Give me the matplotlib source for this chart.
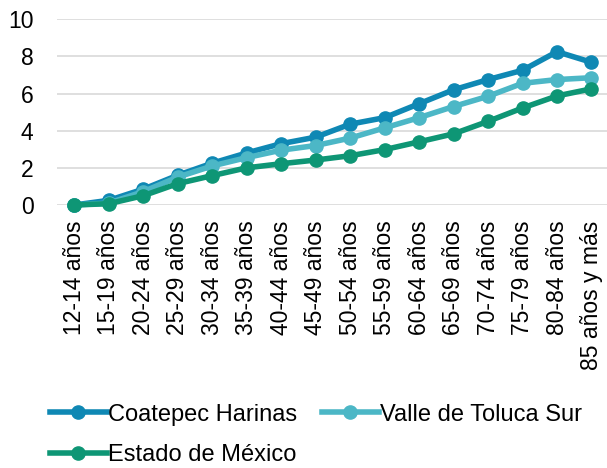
import matplotlib.pyplot as plt
import numpy as np

plt.rcParams['font.family'] = ['Liberation Sans', 'DejaVu Sans']

grupos = ['12-14 años', '15-19 años', '20-24 años', '25-29 años', '30-34 años',
          '35-39 años', '40-44 años', '45-49 años', '50-54 años', '55-59 años',
          '60-64 años', '65-69 años', '70-74 años', '75-79 años', '80-84 años',
          '85 años y más']
coatepec = [0, 0.25, 0.85, 1.6, 2.25, 2.8, 3.3, 3.65, 4.35, 4.7, 5.45, 6.2, 6.75, 7.25, 8.25, 7.68]
valle = [0, 0.1, 0.72, 1.5, 2.1, 2.55, 2.95, 3.2, 3.6, 4.15, 4.7, 5.3, 5.85, 6.55, 6.75, 6.85]
estado = [0, 0.07, 0.5, 1.15, 1.58, 2.0, 2.22, 2.42, 2.65, 2.98, 3.4, 3.83, 4.5, 5.22, 5.87, 6.25]

col_coa = '#0F88B4'
col_val = '#4CB7C6'
col_edo = '#0E9675'

fig = plt.figure(figsize=(6.07, 4.68), dpi=100)
ax = fig.add_axes([0.094, 0.562, 0.906, 0.397])

x = np.arange(len(grupos))
lineas = []
for y, c, lab in [(coatepec, col_coa, 'Coatepec Harinas'),
                  (valle, col_val, 'Valle de Toluca Sur'),
                  (estado, col_edo, 'Estado de México')]:
    l, = ax.plot(x, y, color=c, lw=4, marker='o', ms=9.5, label=lab, clip_on=False, zorder=3)
    lineas.append(l)

ax.set_xlim(-0.5, 15.45)
ax.set_ylim(0, 10)
ax.set_yticks([0, 2, 4, 6, 8, 10])
ax.set_xticks(x)
ax.set_xticklabels(grupos, rotation=90, fontsize=16.5)
ax.tick_params(axis='y', labelsize=16.5, length=0, pad=17)
ax.tick_params(axis='x', length=0, pad=11)
ax.grid(axis='y', color='#D9D9D9', lw=1.2)
ax.set_axisbelow(True)
for s in ax.spines.values():
    s.set_visible(False)

# orden para que quede Coatepec / Valle en la primera fila
orden = [lineas[0], lineas[2], lineas[1]]
fig.legend(orden, [l.get_label() for l in orden],
           loc='upper left', bbox_to_anchor=(0.067, 0.158), ncol=2, frameon=False,
           fontsize=17, handlelength=2.4, handletextpad=0.05, columnspacing=1.05,
           labelspacing=0.8, borderaxespad=0)

fig.savefig('out.png', dpi=100)
